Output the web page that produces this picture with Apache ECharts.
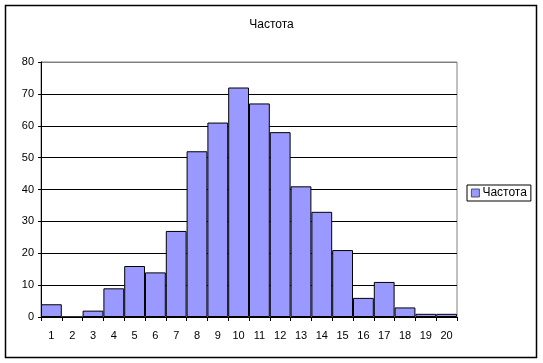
<!DOCTYPE html>
<html><head><meta charset="utf-8">
<script src="https://cdn.jsdelivr.net/npm/echarts@6/dist/echarts.min.js"></script>
<style>html,body{margin:0;padding:0;background:#fff}#c{width:543px;height:363px}</style>
</head><body><div id="c"></div>
<script>
const categories = ['1','2','3','4','5','6','7','8','9','10','11','12','13','14','15','16','17','18','19','20'];
const values = [4, 0, 2, 9, 16, 14, 27, 52, 61, 72, 67, 58, 41, 33, 21, 6, 11, 3, 1, 1];
const seriesName = 'Частота';
const titleText = 'Частота';
const yMin = 0, yMax = 80, yInterval = 10;

const chart = echarts.init(document.getElementById('c'), null, {renderer: 'canvas'});
const font = 'Liberation Sans, Arial, sans-serif';
chart.setOption({
  animation: false,
  backgroundColor: '#fff',
  title: {text: titleText, left: 'center', top: 14, textStyle: {fontFamily: font, fontSize: 12, fontWeight: 'normal', color: '#000'}},
  grid: {left: 41, right: 86, top: 62, bottom: 46, show: true, borderColor: '#808080', borderWidth: 1, backgroundColor: '#fff'},
  legend: {
    left: 467, top: 185, orient: 'vertical',
    borderColor: '#000', borderWidth: 1, padding: [2, 4, 2, 4],
    itemWidth: 8, itemHeight: 8, itemGap: 2,
    icon: 'rect',
    itemStyle: {color: '#9999FF', borderColor: '#333', borderWidth: 0.8},
    textStyle: {fontFamily: font, fontSize: 12, color: '#000', padding: [0, 0, 0, -2]},
    data: [seriesName]
  },
  xAxis: {
    type: 'category', data: categories, boundaryGap: true,
    axisLine: {lineStyle: {color: '#000', width: 1}},
    axisTick: {show: true, length: 4, interval: 0, lineStyle: {color: '#000'}},
    axisLabel: {interval: 0, margin: 13, fontFamily: font, fontSize: 11, color: '#000'}
  },
  yAxis: {
    type: 'value', min: yMin, max: yMax, interval: yInterval,
    axisLine: {show: true, lineStyle: {color: '#000', width: 1}},
    axisTick: {show: true, length: 3, lineStyle: {color: '#000'}},
    axisLabel: {margin: 7, fontFamily: font, fontSize: 11, color: '#000'},
    splitLine: {show: true, lineStyle: {color: ['#000','#000','#000','#000','#000','#000','#000','#000','#808080'], width: 1}}
  },
  series: [{
    name: seriesName, type: 'bar', data: values,
    barCategoryGap: 0,
    itemStyle: {color: '#9999FF', borderColor: '#000', borderWidth: 1}
  }],
  graphic: [{
    type: 'rect', silent: true, z: 100,
    shape: {x: 5.5, y: 5.5, width: 531, height: 352},
    style: {fill: 'none', stroke: '#000', lineWidth: 1.5}
  }]
});
</script></body></html>
